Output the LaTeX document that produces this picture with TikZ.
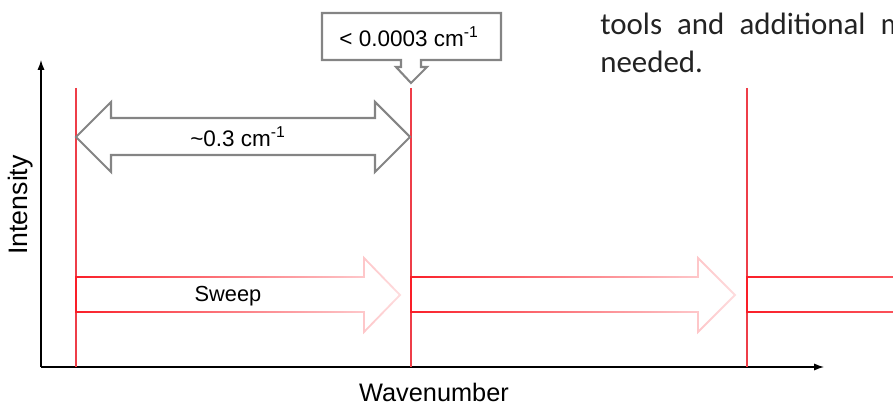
\documentclass[tikz,border=0pt]{standalone}
\usepackage{fontspec}
\setmainfont{Liberation Sans}
\newfontfamily\bodyfont{Carlito}
\usetikzlibrary{arrows.meta, positioning, fadings}
\tikzfading[name=sweepfade, left color=transparent!0, right color=transparent!85]
\tikzfading[name=tailfade, left color=transparent!0, right color=transparent!40]
\definecolor{peakred}{RGB}{238,62,72}
\definecolor{sweepred}{RGB}{250,30,40}
\definecolor{markgray}{RGB}{132,132,132}
\definecolor{slidetext}{RGB}{35,35,35}

\begin{document}
\begin{tikzpicture}[
        x=0.025cm, y=-0.025cm,
        axis/.style={-{Latex[length=7pt,width=5pt]}, line width=0.8pt},
        peak/.style={peakred, line width=1pt},
        sweeparrow/.style={draw=sweepred, line width=1.3pt, path fading=sweepfade},
        gaparrow/.style={draw=markgray, line width=1.5pt},
        label/.style={font=\fontsize{16}{19}\selectfont, inner sep=0pt}
    ]
        \clip (0,0) rectangle (893,405);
        % axes
        \coordinate (origin) at (41,367);
        \coordinate (ytop) at (41,60);
        \coordinate (xend) at (824,367);
        \draw[axis] (origin) -- (ytop);
        \draw[axis] (origin) -- (xend);
        \node[rotate=90, inner sep=0pt, font=\fontsize{19}{22}\selectfont] (ylab) at (21,205) {Intensity};
        \node[inner sep=0pt, font=\fontsize{18}{21}\selectfont] (xlab) at (434,392) {Wavenumber};
        % lines
        \foreach \x/\n in {76/p1, 411/p2, 747/p3}{
            \coordinate (\n top) at (\x,88);
            \coordinate (\n foot) at (\x,367);
            \draw[peak] (\n top) -- (\n foot);
        }
        % sweep arrows
        \draw[sweeparrow] (76,277) -- (364,277) -- (364,258) -- (400,295) -- (364,332) -- (364,312) -- (76,312) -- cycle;
        \draw[sweeparrow] (411,277) -- (698,277) -- (698,258) -- (735,295) -- (698,332) -- (698,312) -- (411,312) -- cycle;
        \draw[sweeparrow, path fading=tailfade] (1000,277) -- (747,277) -- (747,312) -- (1000,312);
        \node[label, font=\fontsize{15.5}{18}\selectfont] (sweep) at (228,296) {Sweep};
        % spacing
        \draw[gaparrow] (76,137) -- (111,102) -- (111,118) -- (375,118) -- (375,102) -- (410,137)
            -- (375,172) -- (375,155) -- (111,155) -- (111,172) -- cycle;
        \node[label] (gap) at (238,137) {\textasciitilde0.3 cm\textsuperscript{-1}};
        % linewidth callout
        \draw[gaparrow] (322,13) -- (501,13) -- (501,60) -- (421,60) -- (421,67) -- (427,67) -- (411,83)
            -- (396,67) -- (401,67) -- (401,60) -- (322,60) -- cycle;
        \node[label] (res) at (409,37) {< 0.0003 cm\textsuperscript{-1}};
        % slide text
        \node[anchor=base west, inner sep=0pt, text=slidetext, font=\bodyfont\fontsize{22}{26}\selectfont] (line1) at (600,35) {\spaceskip=10.7pt tools and additional m};
        \node[anchor=base west, inner sep=0pt, text=slidetext, font=\bodyfont\fontsize{22}{26}\selectfont] (line2) at (600,73) {needed.};
    \end{tikzpicture}
\end{document}
